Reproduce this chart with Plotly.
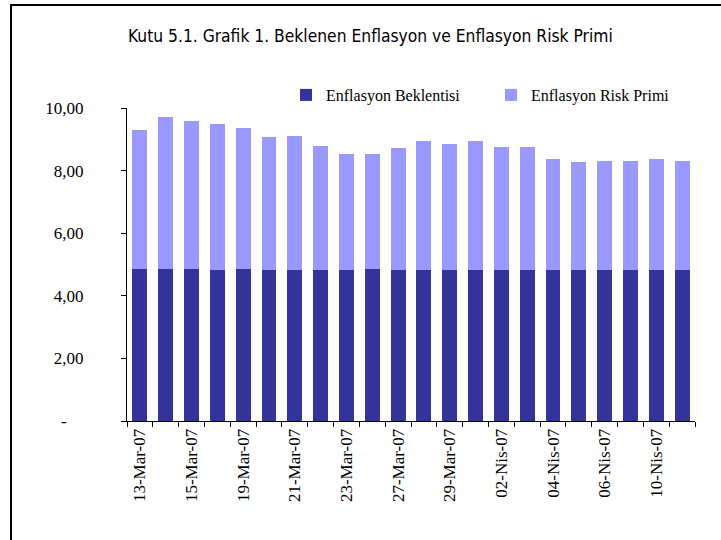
import plotly.graph_objects as go

# Business days of the period (tr month abbreviations)
dates = [
    "13-Mar-07", "14-Mar-07", "15-Mar-07", "16-Mar-07", "19-Mar-07", "20-Mar-07",
    "21-Mar-07", "22-Mar-07", "23-Mar-07", "26-Mar-07", "27-Mar-07", "28-Mar-07",
    "29-Mar-07", "30-Mar-07", "02-Nis-07", "03-Nis-07", "04-Nis-07", "05-Nis-07",
    "06-Nis-07", "09-Nis-07", "10-Nis-07", "11-Nis-07",
]

# Expected inflation (dark segment)
beklenti = [4.86, 4.86, 4.86, 4.83, 4.86, 4.83, 4.83, 4.83, 4.83, 4.86, 4.83,
            4.83, 4.83, 4.83, 4.83, 4.83, 4.83, 4.83, 4.83, 4.83, 4.83, 4.83]

# Total break-even inflation (top of stack)
toplam = [9.29, 9.70, 9.58, 9.48, 9.35, 9.06, 9.09, 8.80, 8.52, 8.52, 8.71,
          8.96, 8.84, 8.96, 8.77, 8.74, 8.36, 8.26, 8.32, 8.32, 8.36, 8.32]

# Inflation risk premium = total - expectation
risk_primi = [round(t - b, 2) for t, b in zip(toplam, beklenti)]

# Only every other date gets a label
tick_text = [d if i % 2 == 0 else "" for i, d in enumerate(dates)]

y_ticks = [0, 2, 4, 6, 8, 10]
y_tick_text = ["-\u00a0\u00a0\u00a0\u00a0", "2,00", "4,00", "6,00", "8,00", "10,00"]

W, H = 721, 540
L, R, T, B = 127, 26, 108, 119
PW, PH = W - L - R, H - T - B


def px_x(px):
    return (px - L) / PW


def px_y(py):
    return (H - B - py) / PH


serif = "Liberation Serif, Times New Roman, serif"
narrow = "DejaVu Sans Condensed, Liberation Sans Narrow, Arial Narrow, Liberation Sans, sans-serif"

fig = go.Figure()
fig.add_trace(go.Bar(x=dates, y=beklenti, name="Enflasyon Beklentisi",
                     marker=dict(color="#333399", line=dict(width=0)),
                     legend="legend"))
fig.add_trace(go.Bar(x=dates, y=risk_primi, name="Enflasyon Risk Primi",
                     marker=dict(color="#9999FF", line=dict(width=0)),
                     legend="legend2"))

legend_common = dict(
    orientation="h",
    yanchor="middle",
    font=dict(family=serif, size=16, color="black"),
    bgcolor="rgba(0,0,0,0)",
    itemclick=False,
    itemdoubleclick=False,
)

fig.update_layout(
    width=W, height=H,
    margin=dict(l=L, r=R, t=T, b=B, pad=0),
    barmode="stack",
    bargap=0.42,
    paper_bgcolor="white",
    plot_bgcolor="white",
    showlegend=True,
    legend=dict(x=px_x(286), xanchor="left", y=px_y(95), **legend_common),
    legend2=dict(x=px_x(491), xanchor="left", y=px_y(95), **legend_common),
    xaxis=dict(
        type="category",
        tickvals=dates,
        ticktext=tick_text,
        tickson="boundaries",
        ticks="outside", ticklen=5, tickcolor="black", tickwidth=1,
        tickangle=-90,
        tickfont=dict(family=serif, size=17, color="black"),
        showline=True, linecolor="black", linewidth=1,
        showgrid=False, zeroline=False,
    ),
    yaxis=dict(
        range=[0, 10],
        tickvals=y_ticks,
        ticktext=y_tick_text,
        ticks="outside", ticklen=5, tickcolor="black", tickwidth=1,
        tickfont=dict(family=serif, size=17, color="black"),
        ticklabelstandoff=34,
        showline=True, linecolor="black", linewidth=1,
        showgrid=False, zeroline=False,
    ),
    annotations=[dict(
        text="Kutu 5.1. Grafik 1. Beklenen Enflasyon ve Enflasyon Risk Primi",
        xref="paper", yref="paper",
        x=px_x(370), y=px_y(36), xanchor="center", yanchor="middle",
        showarrow=False,
        font=dict(family=narrow, size=17.3, color="black"),
    )],
    shapes=[
        dict(type="line", xref="paper", yref="paper",
             x0=px_x(10), x1=px_x(721), y0=px_y(5), y1=px_y(5),
             line=dict(color="black", width=2)),
        dict(type="line", xref="paper", yref="paper",
             x0=px_x(11), x1=px_x(11), y0=px_y(4), y1=px_y(541),
             line=dict(color="black", width=2)),
    ],
)

fig.write_html("out.html")
